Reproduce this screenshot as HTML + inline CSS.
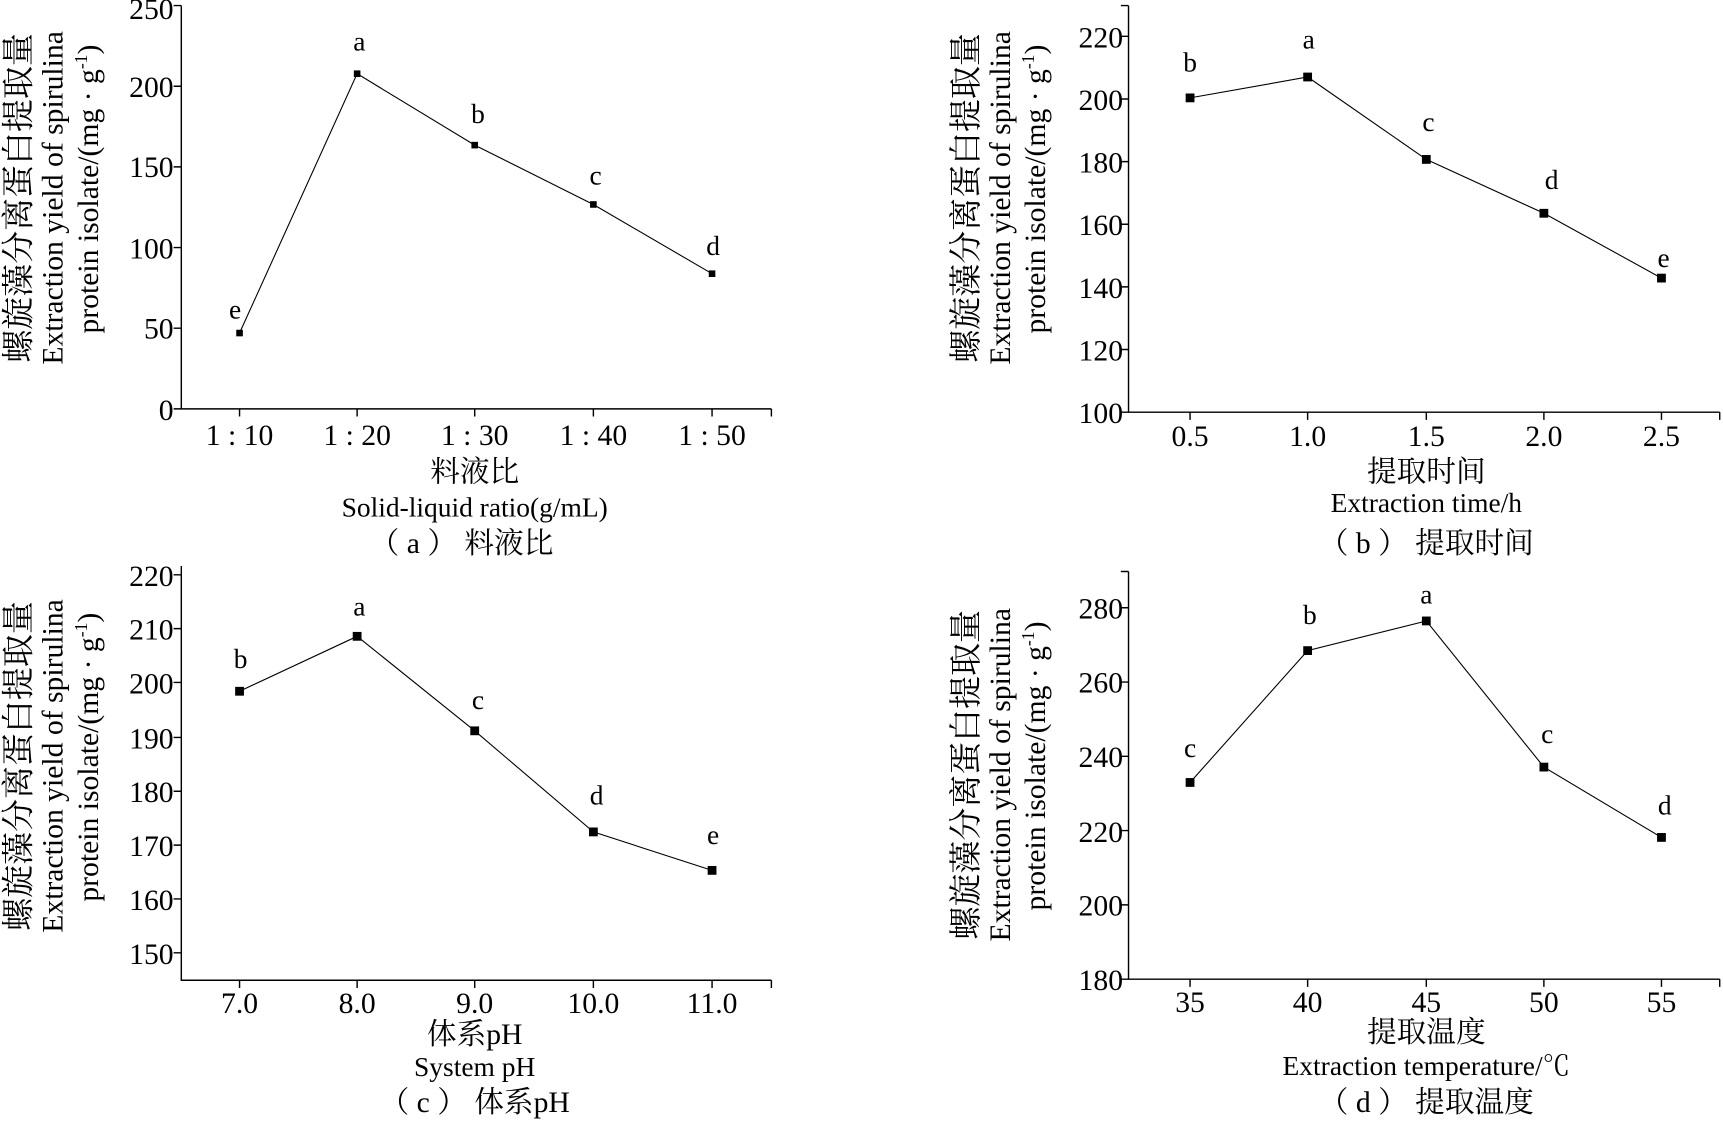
<!DOCTYPE html>
<html><head><meta charset="utf-8"><style>
html,body{margin:0;padding:0;background:#fff;}
svg{display:block}
text{font-family:"Liberation Serif","Noto Serif CJK SC","Noto Sans CJK SC",serif;fill:#000}
</style></head><body>
<svg width="1723" height="1121" viewBox="0 0 1568 1020" xmlns="http://www.w3.org/2000/svg">
<g stroke="#000" stroke-width="1.3" fill="none">
<path d="M165 5V372H702"/>
<path d="M158 372H165M158 298.6H165M158 225.2H165M158 151.8H165M158 78.4H165M158 5H165"/>
<path d="M218 372V379M325 372V379M432 372V379M540 372V379M648 372V379M702 372V379"/>
<path d="M1027 5V375H1565"/>
<path d="M1020 375H1027M1020 318H1027M1020 261H1027M1020 204H1027M1020 147H1027M1020 90H1027M1020 33H1027M1020 5H1027"/>
<path d="M1083 375V382M1190 375V382M1298 375V382M1405 375V382M1512 375V382M1565 375V382"/>
<path d="M165 515V892H702"/>
<path d="M158 867H165M158 818H165M158 769H165M158 720H165M158 671H165M158 621H165M158 572H165M158 523H165"/>
<path d="M218 892V899M325 892V899M432 892V899M540 892V899M648 892V899M702 892V899"/>
<path d="M1027 520V891H1565"/>
<path d="M1020 891H1027M1020 823.4H1027M1020 755.8H1027M1020 688.2H1027M1020 620.6H1027M1020 553H1027M1020 520H1027"/>
<path d="M1083 891V898M1190 891V898M1298 891V898M1405 891V898M1512 891V898M1565 891V898"/>
<polyline stroke-width="1" points="218,303 325,67 432,132 540,186 648,249"/>
<polyline stroke-width="1" points="1083,89 1190,70 1298,145 1405,194 1512,253"/>
<polyline stroke-width="1" points="218,629 325,579 432,665 540,757 648,792"/>
<polyline stroke-width="1" points="1083,712 1190,592 1298,565 1405,698 1512,762"/>
</g>
<g fill="#000">
<rect x="215" y="300" width="6" height="6"/><rect x="322" y="64" width="6" height="6"/><rect x="429" y="129" width="6" height="6"/><rect x="537" y="183" width="6" height="6"/><rect x="645" y="246" width="6" height="6"/>
<rect x="1079" y="85" width="8" height="8"/><rect x="1186" y="66" width="8" height="8"/><rect x="1294" y="141" width="8" height="8"/><rect x="1401" y="190" width="8" height="8"/><rect x="1508" y="249" width="8" height="8"/>
<rect x="214" y="625" width="8" height="8"/><rect x="321" y="575" width="8" height="8"/><rect x="428" y="661" width="8" height="8"/><rect x="536" y="753" width="8" height="8"/><rect x="644" y="788" width="8" height="8"/>
<rect x="1079" y="708" width="8" height="8"/><rect x="1186" y="588" width="8" height="8"/><rect x="1294" y="561" width="8" height="8"/><rect x="1401" y="694" width="8" height="8"/><rect x="1508" y="758" width="8" height="8"/>
</g>
<g font-size="27" text-anchor="end">
<text x="158" y="382">0</text><text x="158" y="308">50</text><text x="158" y="235">100</text><text x="158" y="161">150</text><text x="158" y="88">200</text><text x="158" y="17">250</text>
<text x="1022" y="385">100</text><text x="1022" y="328">120</text><text x="1022" y="271">140</text><text x="1022" y="214">160</text><text x="1022" y="157">180</text><text x="1022" y="100">200</text><text x="1022" y="43">220</text>
<text x="158" y="877">150</text><text x="158" y="828">160</text><text x="158" y="779">170</text><text x="158" y="730">180</text><text x="158" y="681">190</text><text x="158" y="631">200</text><text x="158" y="582">210</text><text x="158" y="533">220</text>
<text x="1022" y="901">180</text><text x="1022" y="833">200</text><text x="1022" y="766">220</text><text x="1022" y="698">240</text><text x="1022" y="630">260</text><text x="1022" y="563">280</text>
</g>
<g font-size="27" text-anchor="middle">
<text x="218" y="405">1 : 10</text><text x="325" y="405">1 : 20</text><text x="432" y="405">1 : 30</text><text x="540" y="405">1 : 40</text><text x="648" y="405">1 : 50</text>
<text x="1083" y="406">0.5</text><text x="1190" y="406">1.0</text><text x="1298" y="406">1.5</text><text x="1405" y="406">2.0</text><text x="1512" y="406">2.5</text>
<text x="218" y="922">7.0</text><text x="325" y="922">8.0</text><text x="432" y="922">9.0</text><text x="540" y="922">10.0</text><text x="648" y="922">11.0</text>
<text x="1083" y="921">35</text><text x="1190" y="921">40</text><text x="1298" y="921">45</text><text x="1405" y="921">50</text><text x="1512" y="921">55</text>
</g>
<g font-size="25" text-anchor="middle">
<text x="214" y="290">e</text><text x="327" y="46">a</text><text x="435" y="112">b</text><text x="542" y="168">c</text><text x="649" y="232">d</text>
<text x="1083" y="65">b</text><text x="1191" y="44">a</text><text x="1300" y="119">c</text><text x="1412" y="172">d</text><text x="1514" y="243">e</text>
<text x="219" y="608">b</text><text x="327" y="560">a</text><text x="435" y="645">c</text><text x="543" y="732">d</text><text x="649" y="768">e</text>
<text x="1083" y="689">c</text><text x="1192" y="568">b</text><text x="1298" y="549">a</text><text x="1408" y="676">c</text><text x="1515" y="741">d</text>
</g>
<g font-size="27" text-anchor="middle">
<text x="432" y="438">料液比</text>
<text x="432" y="470" font-size="25">Solid-liquid ratio(g/mL)</text>
<text x="420" y="503">（ a ） 料液比</text>
<text x="1298" y="438">提取时间</text>
<text x="1298" y="466" font-size="25">Extraction time/h</text>
<text x="1298" y="503">（ b ） 提取时间</text>
<text x="432" y="950">体系pH</text>
<text x="432" y="979" font-size="25">System pH</text>
<text x="432" y="1012">（ c ） 体系pH</text>
<text x="1298" y="948">提取温度</text>
<text x="1298" y="978" font-size="25">Extraction temperature/℃</text>
<text x="1298" y="1012">（ d ） 提取温度</text>
</g>
<g font-size="27" text-anchor="middle">
<g transform="translate(27,180) rotate(-90)"><text x="0" y="0" font-size="30">螺旋藻分离蛋白提取量</text></g>
<g transform="translate(57,180) rotate(-90)"><text x="0" y="0">Extraction yield of spirulina</text></g>
<g transform="translate(89,172) rotate(-90)"><text x="0" y="0">protein isolate/(mg · g<tspan dy="-10" font-size="16">-1</tspan><tspan dy="10">)</tspan></text></g>
<g transform="translate(889,180) rotate(-90)"><text x="0" y="0" font-size="30">螺旋藻分离蛋白提取量</text></g>
<g transform="translate(919,180) rotate(-90)"><text x="0" y="0">Extraction yield of spirulina</text></g>
<g transform="translate(951,172) rotate(-90)"><text x="0" y="0">protein isolate/(mg · g<tspan dy="-10" font-size="16">-1</tspan><tspan dy="10">)</tspan></text></g>
<g transform="translate(27,697) rotate(-90)"><text x="0" y="0" font-size="30">螺旋藻分离蛋白提取量</text></g>
<g transform="translate(57,697) rotate(-90)"><text x="0" y="0">Extraction yield of spirulina</text></g>
<g transform="translate(89,689) rotate(-90)"><text x="0" y="0">protein isolate/(mg · g<tspan dy="-10" font-size="16">-1</tspan><tspan dy="10">)</tspan></text></g>
<g transform="translate(889,705) rotate(-90)"><text x="0" y="0" font-size="30">螺旋藻分离蛋白提取量</text></g>
<g transform="translate(919,705) rotate(-90)"><text x="0" y="0">Extraction yield of spirulina</text></g>
<g transform="translate(951,697) rotate(-90)"><text x="0" y="0">protein isolate/(mg · g<tspan dy="-10" font-size="16">-1</tspan><tspan dy="10">)</tspan></text></g>
</g>
</svg>
</body></html>
